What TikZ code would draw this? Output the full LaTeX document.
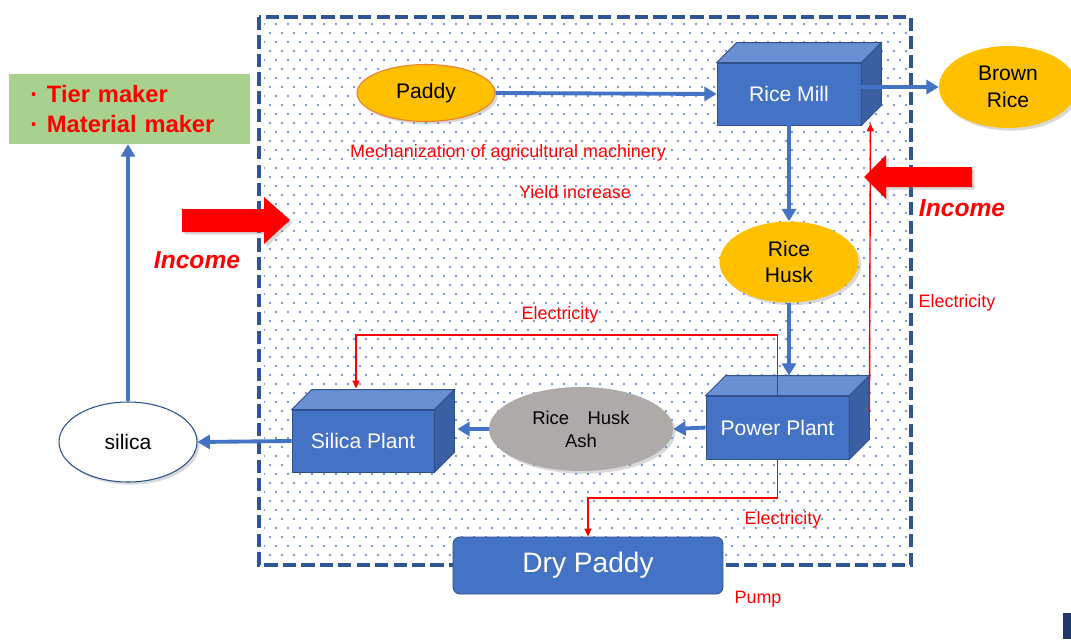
\documentclass[tikz,border=0pt]{standalone}
\usepackage{fontspec}
\setmainfont{Liberation Sans}
\usetikzlibrary{arrows.meta,shapes.geometric,shadows,calc}

\definecolor{cubeblue}{HTML}{4472C4}
\definecolor{cubetop}{HTML}{6A8FD2}
\definecolor{cubeside}{HTML}{3A5FA3}
\definecolor{cubeedge}{HTML}{2F528F}
\definecolor{framec}{HTML}{2F5597}
\definecolor{dotc}{HTML}{4F7BCB}
\definecolor{gold}{HTML}{FFC000}
\definecolor{goldedge}{HTML}{ED7D31}
\definecolor{ashgray}{HTML}{AEAAAA}
\definecolor{leaf}{HTML}{A9D18E}
\definecolor{navy}{HTML}{203864}
\definecolor{hot}{HTML}{FF0000}

% top and right faces of a box whose front face is the node #1
\newcommand{\cubesides}[1]{%
  \filldraw[fill=cubetop, draw=cubeedge, line width=0.5pt]
    (#1.north west) -- ++(20,-20) -- ($(#1.north east)+(20,-20)$) -- (#1.north east) -- cycle;
  \filldraw[fill=cubeside, draw=cubeedge, line width=0.5pt]
    (#1.north east) -- ++(20,-20) -- ($(#1.south east)+(20,-20)$) -- (#1.south east) -- cycle;
}

\tikzset{
  cubeface/.style={rectangle, fill=cubeblue, draw=cubeedge, line width=0.5pt,
    text=white, inner sep=0, font=\fontsize{12}{14}\selectfont},
  oval/.style={ellipse, inner sep=0, align=center, font=\fontsize{12}{15}\selectfont,
    drop shadow={shadow xshift=1.5pt, shadow yshift=-1.5pt, opacity=0.3}},
  goldoval/.style={oval, fill=gold},
  flow/.style={draw=cubeblue, line width=2.2pt, -{Triangle[length=7pt,width=8pt]}},
  power/.style={draw=hot, line width=0.8pt, -{Triangle[length=4.5pt,width=4pt]}},
  redlabel/.style={text=hot, font=\fontsize{10.2}{12}\selectfont, inner sep=0},
  income/.style={text=hot, font=\fontsize{14}{16}\selectfont\bfseries\itshape, inner sep=0},
  bigarrow/.style={fill=hot, drop shadow={shadow xshift=1.5pt, shadow yshift=-1.5pt, opacity=0.3}}
}

\begin{document}
\begin{tikzpicture}[x=0.02cm, y=-0.02cm]
\useasboundingbox (0,0) rectangle (1071,639);
\fill[white] (0,0) rectangle (1071,639);

% dotted background of the rice-processing area, one row at a time
\begin{scope}
  \clip (264,21) rectangle (908,562);
  \foreach \r in {0,...,59} {
    \fill[dotc] \foreach \c in {0,...,54}
      { ({264+12*\c+6*mod(\r,2)}, {24+9*\r}) circle (0.6pt) };
  }
\end{scope}
\draw[framec, line width=2.3pt, dash pattern=on 7.5pt off 3pt] (259,17) rectangle (911,565);

% boxes
\node[cubeface, minimum width=2.88cm, minimum height=1.24cm] (mill) at (789,94) {Rice Mill};
\cubesides{mill}
\node[cubeface, minimum width=2.86cm, minimum height=1.26cm] (plant) at (777.5,427.5) {Power Plant};
\cubesides{plant}
\node[cubeface, minimum width=2.84cm, minimum height=1.24cm] (splant) at (363,441) {Silica Plant};
\cubesides{splant}

\coordinate (plant-top) at ($(plant.north)+(10,-20)$);
\coordinate (splant-side) at ($(splant.east)+(23,0)$);
\coordinate (splant-top) at ($(splant.north)+(-7,-21)$);
\coordinate (plant-back) at ($(plant.east)+(20,-16)$);
\coordinate (mill-foot) at ($(mill.south east)+(9,-2)$);

% ovals
\node[goldoval, draw=goldedge, line width=0.6pt, minimum width=2.76cm, minimum height=1.14cm] (paddy) at (426,93) {Paddy};
\node[goldoval, minimum width=2.76cm, minimum height=1.64cm] (brown) at (1008,87) {Brown\\Rice};
\node[goldoval, minimum width=2.78cm, minimum height=1.62cm] (husk) at (789,262) {Rice\\Husk};
\node[oval, fill=ashgray, minimum width=3.68cm, minimum height=1.68cm,
      font=\fontsize{10.5}{13}\selectfont] (ash) at (581,429) {Rice\hspace{1em}Husk\\Ash};
\node[oval, fill=white, draw=cubeedge, line width=0.6pt, minimum width=2.76cm, minimum height=1.6cm] (silica) at (128,442) {silica};

\node[rectangle, rounded corners=4pt, fill=cubeblue, draw=cubeedge, line width=0.5pt, text=white,
      minimum width=5.4cm, minimum height=1.14cm, font=\fontsize{16}{18}\selectfont] (dry) at (588,565.5) {Dry Paddy};

\node[rectangle, fill=leaf, inner xsep=0.38cm, inner ysep=0, text width=4.06cm, minimum height=1.4cm,
      align=left, text=hot, font=\fontsize{13.5}{17}\selectfont\bfseries] (maker) at (129.5,109)
      {\makebox[0.8em][l]{\hspace{0.1em}·}Tier maker\\\makebox[0.8em][l]{\hspace{0.1em}·}Material maker};

% material flow
\draw[flow] (paddy.east) -- (mill.west);
\draw[flow] (mill.east |- brown.west) -- (brown.west);
\draw[flow] (mill.south) -- (husk.north);
\draw[flow] (husk.south) -- (husk.south |- plant-top);
\draw[flow] (plant.west) -- (ash.east);
\draw[flow] (ash.west) -- (ash.west -| splant-side);
\draw[flow] (splant.west) -- (silica.east);
\draw[flow] (silica.north) -- (silica.north |- maker.south);

% electricity lines
\coordinate (bus) at (560,335);
\draw[power] (plant.north) |- (bus) -| (splant-top);
\draw[power] (plant-back) -- (mill-foot);
\draw[power] (plant.south) -- ++(0,38.5) -| (dry.north);

% labels
\node[redlabel] (mech) at (508,153) {Mechanization of agricultural machinery};
\node[redlabel] (yield) at (575,192) {Yield increase};
\node[redlabel] (elec-top) at (560,315) {Electricity};
\node[redlabel] (elec-right) at (957,303) {Electricity};
\node[redlabel] (elec-bottom) at (783,520) {Electricity};
\node[redlabel] (pump) at (758,599) {Pump};

% income arrows
\fill[bigarrow] (182,209) -- (264,209) -- (264,197) -- (290,220) -- (264,244) -- (264,232) -- (182,232) -- cycle;
\fill[bigarrow] (972,167) -- (886,167) -- (886,155) -- (864,177) -- (886,199) -- (886,187) -- (972,187) -- cycle;
\node[income] (income-left) at (197,260) {Income};
\node[income] (income-right) at (962,208) {Income};

% corner mark
\fill[navy] (1063,613) rectangle (1071,639);
\end{tikzpicture}
\end{document}
